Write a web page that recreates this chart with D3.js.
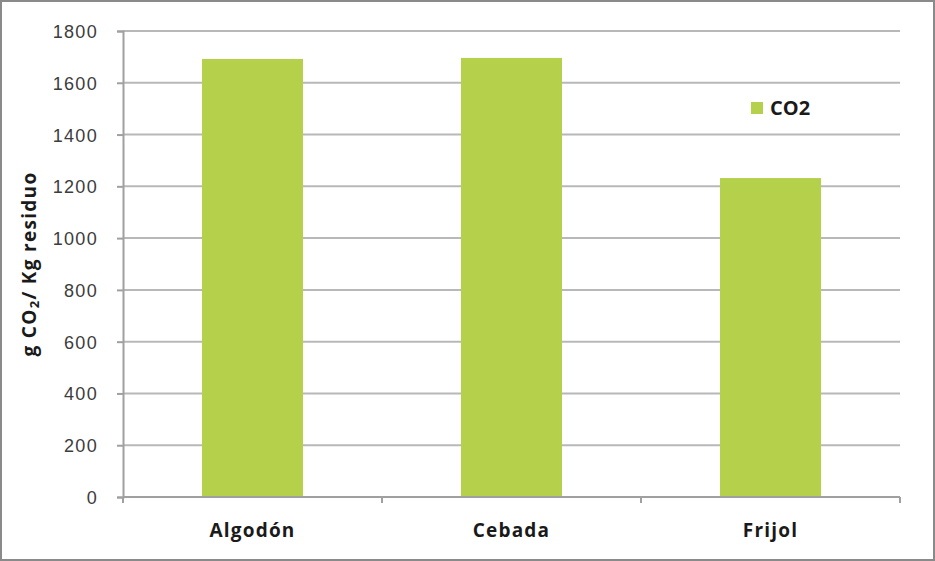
<!DOCTYPE html>
<html>
<head>
<meta charset="utf-8">
<script src="https://cdn.jsdelivr.net/npm/d3@7"></script>
<style>
  body { margin: 0; background: #fff; }
  svg { display: block; font-family: "Open Sans", "DejaVu Sans", sans-serif; }
</style>
</head>
<body>
<div id="chart"></div>
<script>
var categories = ["Algodón", "Cebada", "Frijol"];
var co2Values = [1692, 1696, 1232];
var yTicks = [0, 200, 400, 600, 800, 1000, 1200, 1400, 1600, 1800];
var seriesName = "CO2";

var width = 935;
var height = 561;
var margin = { top: 31, right: 35, bottom: 64, left: 123 };  // plot area
var barColor = "#b5d04b";

var svg = d3.select("#chart").append("svg")
    .attr("width", width)
    .attr("height", height);

// outer frame
svg.append("rect")
    .attr("x", 1).attr("y", 1)
    .attr("width", width - 2).attr("height", height - 2)
    .attr("fill", "#fff")
    .attr("stroke", "#8a8a8a")
    .attr("stroke-width", 2);

var x = d3.scaleBand()
    .domain(categories)
    .range([margin.left, width - margin.right])
    .paddingInner(0.61)
    .paddingOuter(0.305);

var y = d3.scaleLinear()
    .domain([0, 1800])
    .range([height - margin.bottom, margin.top]);

// gridlines
svg.append("g")
    .selectAll("line")
    .data(yTicks.filter(function (d) { return d > 0; }))
    .join("line")
    .attr("x1", margin.left)
    .attr("x2", width - margin.right)
    .attr("y1", function (d) { return y(d); })
    .attr("y2", function (d) { return y(d); })
    .attr("stroke", "#b8b8b8")
    .attr("stroke-width", 2);

// y axis
var yAxis = svg.append("g")
    .attr("transform", "translate(" + margin.left + ",0)")
    .call(d3.axisLeft(y).tickValues(yTicks).tickSize(6).tickPadding(19).tickFormat(d3.format("d")));
yAxis.select(".domain").attr("stroke", "#a0a0a0").attr("stroke-width", 2);
yAxis.selectAll(".tick line").attr("stroke", "#a0a0a0").attr("stroke-width", 2);
yAxis.selectAll("text")
    .attr("fill", "#3c3c3c")
    .attr("dy", "0.36em")
    .style("font-size", "18px")
    .style("letter-spacing", "1.3px");

// bars
svg.append("g")
    .selectAll("rect")
    .data(co2Values)
    .join("rect")
    .attr("x", function (d, i) { return x(categories[i]); })
    .attr("y", function (d) { return y(d); })
    .attr("width", x.bandwidth())
    .attr("height", function (d) { return y(0) - y(d); })
    .attr("fill", barColor);

// x axis
var boundaries = [margin.left].concat(categories.map(function (c) { return x(c) + x.bandwidth() + x.step() * 0.305; }));
var xAxis = svg.append("g")
    .attr("transform", "translate(0," + y(0) + ")");
xAxis.append("line")
    .attr("x1", margin.left).attr("x2", width - margin.right)
    .attr("stroke", "#a0a0a0").attr("stroke-width", 2);
xAxis.selectAll(".tk")
    .data(boundaries)
    .join("line")
    .attr("class", "tk")
    .attr("x1", function (d) { return d; })
    .attr("x2", function (d) { return d; })
    .attr("y1", 0).attr("y2", 6)
    .attr("stroke", "#a0a0a0").attr("stroke-width", 2);
xAxis.selectAll("text")
    .data(categories)
    .join("text")
    .attr("x", function (d) { return x(d) + x.bandwidth() / 2; })
    .attr("y", 40)
    .attr("text-anchor", "middle")
    .attr("fill", "#1a1a1a")
    .style("font-size", "19px")
    .style("font-weight", "bold")
    .style("letter-spacing", "1.2px")
    .text(function (d) { return d; });

// y title
var yTitle = svg.append("text")
    .attr("transform", "translate(36," + ((margin.top + y(0)) / 2) + ") rotate(-90)")
    .attr("text-anchor", "middle")
    .attr("fill", "#1a1a1a")
    .style("font-size", "19px")
    .style("font-weight", "bold")
    .style("letter-spacing", "1.3px");
yTitle.append("tspan").text("g CO");
yTitle.append("tspan").attr("font-size", "13px").attr("dy", 3).text("2");
yTitle.append("tspan").attr("dy", -3).text("/ Kg residuo");

// legend
var legend = svg.append("g").attr("transform", "translate(751,102)");
legend.append("rect")
    .attr("width", 12).attr("height", 12)
    .attr("fill", barColor);
legend.append("text")
    .attr("x", 19).attr("y", 13)
    .attr("fill", "#1a1a1a")
    .style("font-size", "20px")
    .style("font-weight", "bold")
    .text(seriesName);
</script>
</body>
</html>
